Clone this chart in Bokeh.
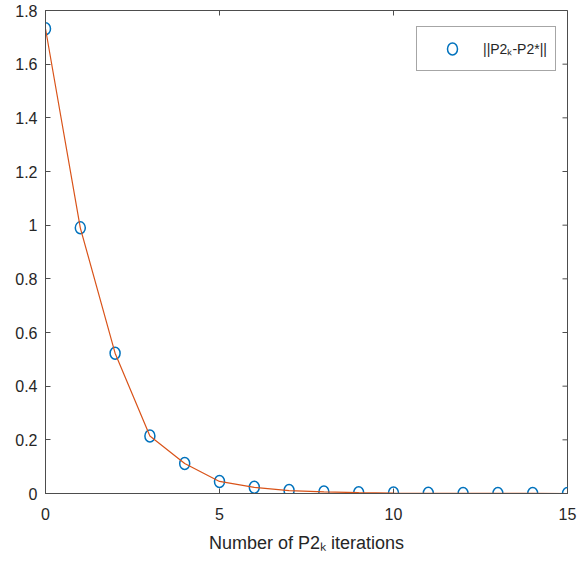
import math
from bokeh.plotting import figure
from bokeh.models import Range1d, FixedTicker, Legend, LegendItem, ColumnDataSource
from bokeh.embed import file_html
from bokeh.resources import INLINE

# data
iterations = [0, 1, 2, 3, 4, 5, 6, 7, 8, 9, 10, 11, 12, 13, 14, 15]
err_norm = [1.732, 0.99, 0.523, 0.214, 0.112, 0.045, 0.023, 0.011, 0.006, 0.003, 0.0015, 0.0008, 0.0004, 0.0002, 0.0001, 0.00005]
x_ticks = [0, 5, 10, 15]
y_ticks = [0, 0.2, 0.4, 0.6, 0.8, 1.0, 1.2, 1.4, 1.6, 1.8]
y_tick_labels = ["0", "0.2", "0.4", "0.6", "0.8", "1", "1.2", "1.4", "1.6", "1.8"]
legend_label = "||P2\u2096-P2*||"
x_label = "Number of P2\u2096 iterations"

X_MIN, X_MAX = 0, 15
Y_MIN, Y_MAX = 0, 1.8

FONT = "'Liberation Sans', Arial, sans-serif"
AX = "#4d4d4d"
TXT = "#262626"

src = ColumnDataSource(dict(x=iterations, y=err_norm))

p = figure(width=578, height=555, x_range=Range1d(X_MIN, X_MAX), y_range=Range1d(Y_MIN, Y_MAX),
           output_backend="svg", toolbar_location=None,
           min_border_left=45, min_border_right=11, min_border_top=10, min_border_bottom=62)
p.xgrid.visible = False
p.ygrid.visible = False
p.outline_line_color = AX
p.outline_line_alpha = 1
p.background_fill_color = "white"
p.border_fill_color = "white"

circ = p.ellipse("x", "y", source=src, width=10, height=12, width_units="screen",
                 height_units="screen", fill_color=None, line_color="#0072BD", line_width=1.5)
p.line("x", "y", source=src, line_color="#D95319", line_width=1.2)

# mirrored inward ticks on right and top edges
p.scatter(x=[X_MAX] * len(y_ticks), y=y_ticks, marker="dash", size=10,
          line_color=AX, line_width=1)
p.scatter(x=x_ticks, y=[Y_MAX] * len(x_ticks), marker="dash", size=10, angle=math.pi / 2,
          line_color=AX, line_width=1)

for ax in [p.xaxis[0], p.yaxis[0]]:
    ax.major_tick_in = 5
    ax.major_tick_out = 0
    ax.minor_tick_line_color = None
    ax.axis_line_color = AX
    ax.major_tick_line_color = AX
    ax.major_label_text_font = FONT
    ax.major_label_text_font_size = "16px"
    ax.major_label_text_color = TXT

p.xaxis[0].ticker = FixedTicker(ticks=x_ticks)
p.xaxis[0].major_label_standoff = 14
p.xaxis[0].axis_label = x_label
p.xaxis[0].axis_label_text_font = FONT
p.xaxis[0].axis_label_text_font_size = "18px"
p.xaxis[0].axis_label_text_font_style = "normal"
p.xaxis[0].axis_label_text_color = TXT
p.xaxis[0].axis_label_standoff = 10

p.yaxis[0].ticker = FixedTicker(ticks=y_ticks)
p.yaxis[0].major_label_overrides = {t: l for t, l in zip(y_ticks, y_tick_labels)}
p.yaxis[0].major_label_standoff = 8

legend = Legend(items=[LegendItem(label=legend_label, renderers=[circ])],
                location=(371, 422), padding=8, glyph_width=54, glyph_height=15,
                label_standoff=4, label_height=27, spacing=0,
                label_text_font=FONT, label_text_font_size="14px", label_text_color=TXT,
                border_line_color=AX, border_line_width=1, background_fill_alpha=1)
p.add_layout(legend)

open("out.html", "w").write(file_html(p, INLINE))
